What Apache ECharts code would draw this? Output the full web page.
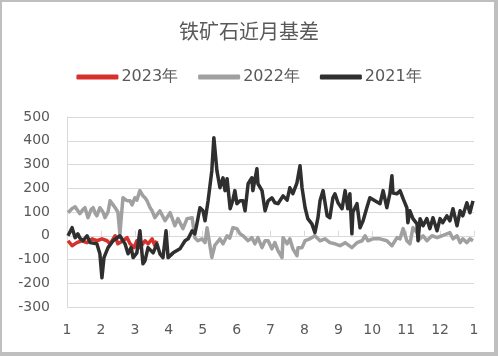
<!DOCTYPE html>
<html><head><meta charset="utf-8">
<script src="https://cdn.jsdelivr.net/npm/echarts@6/dist/echarts.min.js"></script>
<style>
html,body{margin:0;padding:0;background:#fff;}
#wrap{position:relative;width:498px;height:356px;}
#chart{position:absolute;left:0;top:0;width:498px;height:356px;}
#frame{position:absolute;left:0;top:0;right:0;bottom:0;border-left:2px solid #bfbfbf;border-top:2px solid #bfbfbf;border-right:4px solid #bfbfbf;border-bottom:4px solid #bfbfbf;pointer-events:none;}
</style></head>
<body><div id="wrap"><div id="chart"></div><div id="frame"></div></div>
<script>
// x = position within the year in months (0 = 1 Jan, 12 = next 1 Jan)
const monthLabels = ['1','2','3','4','5','6','7','8','9','10','11','12','1'];
const seriesNames = ['2023年','2022年','2021年'];

const data2023 = [[0.03,-21],[0.15,-42],[0.29,-29],[0.44,-21],[0.59,-29],[0.74,-13],[0.88,-21],[1.03,-13],[1.18,-21],[1.27,-34],[1.42,0],[1.50,-34],[1.65,-21],[1.77,-8],[1.86,-34],[1.98,-50],[2.06,-21],[2.15,-50],[2.30,-21],[2.39,-34],[2.51,-13],[2.59,-42],[2.65,-21]];

const data2022 = [[0.03,97],[0.15,115],[0.24,122],[0.32,105],[0.38,93],[0.47,110],[0.53,118],[0.62,76],[0.71,110],[0.77,118],[0.83,95],[0.88,84],[0.97,118],[1.06,100],[1.12,76],[1.21,100],[1.27,147],[1.36,130],[1.42,118],[1.50,100],[1.56,8],[1.59,60],[1.65,160],[1.74,150],[1.80,147],[1.86,147],[1.92,130],[2.00,160],[2.06,150],[2.15,190],[2.24,168],[2.30,160],[2.36,147],[2.45,118],[2.51,105],[2.59,76],[2.74,105],[2.89,63],[3.04,97],[3.18,42],[3.27,72],[3.42,30],[3.54,72],[3.69,76],[3.77,-8],[3.86,-21],[3.98,-13],[4.07,-29],[4.13,34],[4.27,-92],[4.36,-40],[4.51,-13],[4.60,-34],[4.72,0],[4.80,-10],[4.89,34],[5.01,30],[5.10,8],[5.19,0],[5.34,-21],[5.45,-8],[5.54,-34],[5.63,-8],[5.75,-50],[5.84,-21],[5.93,-21],[6.04,-55],[6.13,-29],[6.22,-63],[6.34,-92],[6.37,-8],[6.49,-34],[6.57,-13],[6.66,-55],[6.78,-84],[6.81,-50],[6.93,-50],[7.02,-21],[7.16,-13],[7.31,0],[7.46,-21],[7.61,-13],[7.75,-29],[7.90,-34],[8.05,-42],[8.20,-29],[8.40,-50],[8.55,-29],[8.70,-21],[8.79,0],[8.87,-21],[9.02,-13],[9.23,-13],[9.43,-21],[9.58,-42],[9.73,-8],[9.82,-13],[9.91,30],[10.02,-21],[10.11,-34],[10.20,34],[10.32,13],[10.41,-13],[10.50,0],[10.61,-21],[10.76,0],[10.91,-8],[11.06,0],[11.20,8],[11.29,13],[11.38,-13],[11.50,0],[11.59,-29],[11.67,-13],[11.79,-29],[11.88,-13],[11.97,-21]];

const data2021 = [[0.03,0],[0.15,34],[0.24,-8],[0.32,8],[0.38,-10],[0.47,-21],[0.59,0],[0.68,-29],[0.88,-34],[0.97,-76],[1.03,-177],[1.09,-92],[1.21,-50],[1.36,-21],[1.56,0],[1.71,-34],[1.80,-76],[1.89,-50],[1.95,-92],[2.06,-72],[2.15,21],[2.24,-118],[2.30,-105],[2.39,-50],[2.54,-72],[2.65,-34],[2.74,-76],[2.83,-92],[2.92,21],[2.98,-92],[3.13,-72],[3.33,-55],[3.48,-21],[3.57,-13],[3.69,21],[3.77,8],[3.83,50],[3.92,118],[4.01,105],[4.07,63],[4.16,147],[4.27,274],[4.33,413],[4.42,274],[4.51,202],[4.60,244],[4.66,190],[4.72,240],[4.81,114],[4.89,150],[4.95,190],[5.01,135],[5.10,147],[5.19,147],[5.25,105],[5.34,219],[5.45,244],[5.48,190],[5.60,282],[5.63,219],[5.75,190],[5.84,105],[5.93,147],[6.04,160],[6.13,139],[6.22,135],[6.37,168],[6.49,150],[6.57,202],[6.66,177],[6.78,223],[6.87,295],[6.93,202],[7.02,118],[7.10,72],[7.22,50],[7.31,13],[7.40,76],[7.46,147],[7.55,190],[7.67,84],[7.75,76],[7.84,160],[7.90,177],[7.99,139],[8.11,114],[8.20,190],[8.28,114],[8.34,177],[8.40,8],[8.43,100],[8.55,135],[8.64,34],[8.73,63],[8.84,118],[8.93,160],[9.08,147],[9.23,135],[9.32,190],[9.43,118],[9.52,177],[9.58,253],[9.61,180],[9.73,177],[9.82,190],[9.91,156],[10.02,118],[10.05,55],[10.11,105],[10.20,72],[10.32,50],[10.35,-21],[10.41,72],[10.50,42],[10.61,72],[10.70,30],[10.79,76],[10.91,21],[11.00,72],[11.08,55],[11.20,84],[11.29,63],[11.38,114],[11.50,42],[11.59,105],[11.67,84],[11.79,139],[11.88,97],[11.97,147]];

const colors = ['#d7312e','#a0a0a0','#2f2f2f'];
const seriesData = [data2023, data2022, data2021];

const chart = echarts.init(document.getElementById('chart'), null, {renderer:'canvas'});
const txt = '#595959';
const grid = '#d9d9d9';
chart.setOption({
  animation:false,
  title:{text:'铁矿石近月基差',left:'center',top:16,
    textStyle:{fontSize:20,fontWeight:'normal',color:txt,fontFamily:'Noto Sans CJK SC'}},
  legend:{top:69,left:'center',padding:0,itemGap:20,itemWidth:42,itemHeight:5,icon:'roundRect',
    textStyle:{fontSize:16,color:txt,fontFamily:'DejaVu Sans',padding:[0,0,0,-2]},
    data:seriesNames},
  grid:{left:67,right:24,top:117,bottom:49,containLabel:false},
  xAxis:[{type:'value',min:0,max:12,interval:1,
    axisLine:{show:false,onZero:false},axisTick:{show:false},splitLine:{show:false},
    axisLabel:{fontSize:14,color:txt,fontFamily:'DejaVu Sans',margin:16,formatter:v=>monthLabels[Math.round(v)]}},
   {type:'value',min:0,max:12,interval:1,position:'bottom',
    axisLine:{show:true,onZero:true,lineStyle:{color:grid,width:1}},
    axisTick:{show:true,inside:true,length:5,lineStyle:{color:grid}},
    axisLabel:{show:false},splitLine:{show:false}}],
  yAxis:{type:'value',min:-300,max:500,interval:100,
    axisLine:{show:true,lineStyle:{color:grid}},axisTick:{show:false},
    splitLine:{show:true,lineStyle:{color:grid,width:1}},
    axisLabel:{fontSize:14,color:txt,fontFamily:'DejaVu Sans',margin:17}},
  series:seriesNames.map((n,i)=>({name:n,type:'line',data:seriesData[i],showSymbol:false,symbol:'none',
    lineStyle:{width:3.5,color:colors[i],join:'round'},itemStyle:{color:colors[i]}}))
});
</script></body></html>
